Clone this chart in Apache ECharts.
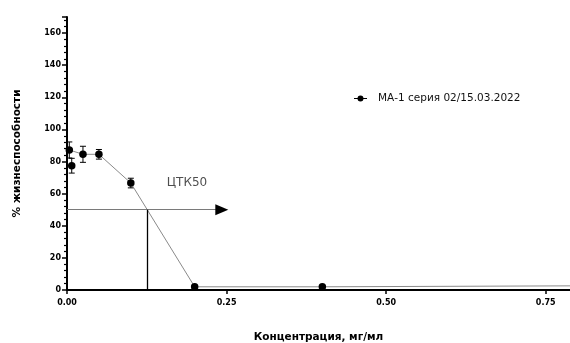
<!DOCTYPE html>
<html>
<head>
<meta charset="utf-8">
<script src="https://cdn.jsdelivr.net/npm/echarts@6/dist/echarts.min.js"></script>
<style>
  html, body { margin: 0; padding: 0; background: #fff; }
  #chart { width: 570px; height: 343px; }
</style>
</head>
<body>
<div id="chart"></div>
<script>
// Cell viability vs. concentration, mean ± SD
const seriesName = 'МА-1 серия 02/15.03.2022';
const concentration = [0.0036, 0.0074, 0.025, 0.05, 0.1, 0.2, 0.4];
const viability = [87.2, 77.4, 84.5, 84.5, 66.6, 2.0, 2.0];
const errorSd = [5.0, 4.6, 5.0, 3.0, 3.0, 0, 0];

// connecting line through the group means
const trendX = [0.0036, 0.025, 0.05, 0.1, 0.2, 0.4, 0.8];
const trendY = [87.2, 84.5, 84.5, 66.6, 2.0, 2.0, 2.6];

// 50 % cytotoxic concentration marker
const ic50Level = 50;
const ic50Conc = 0.1255;
const arrowStart = 0.2335;
const arrowHead = [0.2425, 50];
const ic50Label = 'ЦТК50';
const ic50LabelPos = [0.188, 66.5];

const xTicks = [0, 0.25, 0.5, 0.75];
const yTicks = [0, 20, 40, 60, 80, 100, 120, 140, 160];

const points = concentration.map((c, i) => [c, viability[i]]);
const bars = concentration.map((c, i) => [c, viability[i] - errorSd[i], viability[i] + errorSd[i]]);
const trend = trendX.map((c, i) => [c, trendY[i]]);

const tickFont = { fontFamily: 'DejaVu Sans', fontWeight: 'bold', fontSize: 8, color: '#000' };
const titleFont = { fontFamily: 'DejaVu Sans', fontWeight: 'bold', fontSize: 10.5, color: '#000' };

const chart = echarts.init(document.getElementById('chart'), null, { renderer: 'canvas' });
chart.setOption({
  animation: false,
  grid: { left: 67, right: 0, top: 17, bottom: 53, outerBoundsMode: 'none', containLabel: false },
  legend: {
    left: 349, top: 88,
    itemWidth: 13, itemHeight: 6,
    data: [{
      name: seriesName,
      icon: 'path://M0,2.5H13V3.5H0Z M6.5,0A3,3 0 1,1 6.49,0Z'
    }],
    textStyle: { fontFamily: 'DejaVu Sans', fontSize: 10.5, color: '#111', padding: [0, 0, 0, 6] }
  },
  xAxis: {
    type: 'value', min: 0, max: 0.788, interval: 0.25,
    name: 'Концентрация, мг/мл', nameLocation: 'middle', nameGap: 42,
    nameTextStyle: titleFont,
    axisLine: { onZero: false, lineStyle: { color: '#000', width: 2 } },
    axisTick: { length: 4, lineStyle: { color: '#000', width: 1.5 } },
    axisLabel: Object.assign({ margin: 9, showMaxLabel: false,
      formatter: v => xTicks.includes(v) ? v.toFixed(2) : '' }, tickFont),
    splitLine: { show: false }
  },
  yAxis: {
    type: 'value', min: 0, max: 170, interval: 20,
    name: '% жизнеспособности', nameLocation: 'middle', nameGap: 44,
    nameTextStyle: titleFont,
    axisLine: { show: true, onZero: false, lineStyle: { color: '#000', width: 2 } },
    axisTick: { show: true, length: 5, lineStyle: { color: '#000', width: 1.5 } },
    minorTick: { show: true, splitNumber: 5, length: 3, lineStyle: { color: '#000', width: 1.2 } },
    axisLabel: Object.assign({ margin: 6,
      formatter: v => yTicks.includes(v) ? String(v) : '' }, tickFont),
    splitLine: { show: false }
  },
  series: [
    {
      name: 'trend', type: 'line', data: trend,
      showSymbol: false, silent: true, clip: true,
      lineStyle: { color: '#8a8a8a', width: 1 },
      markLine: {
        silent: true, animation: false, symbol: 'none',
        label: { show: false },
        data: [
          [
            { coord: [0, ic50Level], lineStyle: { color: '#7a7a7a', width: 1, type: 'solid' } },
            { coord: [arrowStart, ic50Level] }
          ],
          [
            { coord: [ic50Conc, 0], lineStyle: { color: '#000', width: 1.3, type: 'solid' } },
            { coord: [ic50Conc, ic50Level] }
          ]
        ]
      }
    },
    {
      name: 'arrow', type: 'scatter', data: [arrowHead], silent: true, z: 5,
      symbol: 'triangle', symbolRotate: -90, symbolSize: [11, 13],
      itemStyle: { color: '#000', opacity: 1 }
    },
    {
      name: 'errors', type: 'custom', data: bars, silent: true, z: 3,
      renderItem: (params, api) => {
        const x = api.value(0);
        const lo = api.coord([x, api.value(1)]);
        const hi = api.coord([x, api.value(2)]);
        if (Math.abs(lo[1] - hi[1]) < 1) return null;
        const w = 3;
        const style = { stroke: '#000', lineWidth: 1 };
        return {
          type: 'group',
          children: [
            { type: 'line', shape: { x1: lo[0], y1: lo[1], x2: hi[0], y2: hi[1] }, style },
            { type: 'line', shape: { x1: lo[0] - w, y1: lo[1], x2: lo[0] + w, y2: lo[1] }, style },
            { type: 'line', shape: { x1: hi[0] - w, y1: hi[1], x2: hi[0] + w, y2: hi[1] }, style }
          ]
        };
      }
    },
    {
      name: seriesName, type: 'scatter', data: points, z: 4,
      symbol: 'circle', symbolSize: 7.5,
      itemStyle: { color: '#000', opacity: 1 }
    },
    {
      name: 'annotation', type: 'scatter', data: [ic50LabelPos], silent: true,
      symbolSize: 0,
      label: {
        show: true, position: 'inside', formatter: ic50Label,
        fontFamily: 'DejaVu Sans', fontSize: 12, color: '#222'
      }
    }
  ]
});
</script>
</body>
</html>
